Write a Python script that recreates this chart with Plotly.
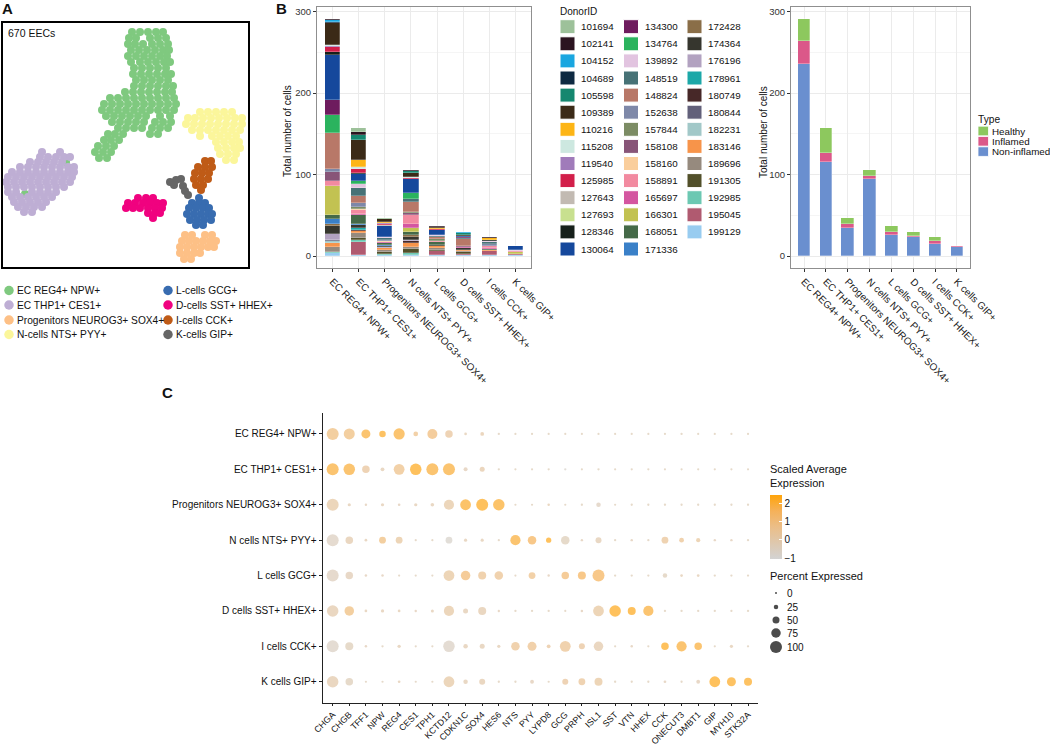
import plotly.graph_objects as go

W, H = 1050, 747
FONT = "Liberation Sans, Arial, sans-serif"

# ---------------- Panel A data (UMAP-like embedding) ----------------
cluster_names = ["EC REG4+ NPW+", "EC THP1+ CES1+", "Progenitors NEUROG3+ SOX4+", "N-cells NTS+ PYY+",
                 "L-cells GCG+", "D-cells SST+ HHEX+", "I-cells CCK+", "K-cells GIP+"]
cluster_colors = ["#7FC97F", "#BEAED4", "#FDC086", "#FBF69B", "#386CB0", "#F0027F", "#BF5B17", "#666666"]

umap_ec_reg4 = [
    (11.3, [0.7, 1.5, 2.3, 3.1, 3.8]),
    (10.7, [0.4, 1.1, 2.5, 3.3, 4.1]),
    (10.1, [0.3, 1.0, 1.8, 2.7, 3.5, 4.3]),
    (9.5, [0.6, 1.4, 2.2, 3.0, 3.8, 4.4]),
    (8.9, [0.3, 1.1, 1.9, 2.7, 3.5, 4.2]),
    (8.3, [0.6, 1.5, 2.3, 3.1, 3.9, 4.5]),
    (7.7, [0.9, 1.7, 2.5, 3.3, 4.1]),
    (7.1, [0.8, 1.6, 2.4, 3.2, 4.0, 4.6]),
    (6.5, [1.1, 1.9, 2.7, 3.5, 4.3]),
    (5.9, [0.9, 1.7, 2.5, 3.3, 4.1, 4.8]),
    (5.3, [0.0, 0.8, 1.6, 2.4, 3.2, 4.0, 4.7]),
    (4.7, [-1.5, -0.7, 0.1, 0.9, 1.7, 2.5, 3.3, 4.1, 4.9]),
    (4.1, [-2.1, -1.3, -0.5, 0.3, 1.1, 1.9, 2.7, 3.5, 4.3, 5.1]),
    (3.5, [-2.3, -1.5, -0.7, 0.1, 0.9, 1.7, 2.5, 3.3, 4.1, 4.9]),
    (2.9, [-1.9, -1.1, -0.3, 0.5, 1.3, 2.1, 3.5, 4.5]),
    (2.3, [-1.3, -0.5, 0.3, 1.1, 1.9, 3.0, 3.8, 4.6]),
    (1.7, [-0.7, 0.1, 0.9, 1.7, 2.7, 3.5, 4.3]),
    (1.1, [-1.7, -1.0, -0.2, 2.5, 3.3]),
    (0.5, [-2.1, -1.4, -0.6]),
    (-0.1, [-2.7, -1.9, -1.1]),
    (-0.7, [-3.0, -2.2, -1.4]),
    (-1.3, [-2.6, -1.8]),
    (-1.7, [-5.9]),
    (-4.9, [-10.0]),
]
umap_ec_thp1 = [
    (-0.7, [-8.3, -6.5]),
    (-1.2, [-8.5, -7.7, -6.9, -6.1, -5.5]),
    (-1.7, [-9.5, -8.7, -7.9, -7.1, -6.3]),
    (-2.2, [-10.5, -9.7, -8.9, -8.1, -7.3, -6.5, -5.7, -5.1]),
    (-2.7, [-11.3, -10.5, -9.7, -8.9, -8.1, -7.3, -6.5, -5.7, -5.1]),
    (-3.2, [-11.7, -10.9, -10.1, -9.3, -8.5, -7.7, -6.9, -6.1, -5.3]),
    (-3.7, [-11.9, -11.1, -10.3, -9.5, -8.7, -7.9, -7.1, -6.3, -5.5]),
    (-4.2, [-11.7, -10.9, -10.1, -9.3, -8.5, -7.7, -6.9, -6.1]),
    (-4.7, [-11.7, -10.9, -9.3, -8.5, -7.7, -6.9]),
    (-5.2, [-11.3, -10.5, -9.7, -8.9, -8.1, -7.3]),
    (-5.7, [-11.1, -10.3, -9.5, -8.7, -7.9]),
    (-6.2, [-10.7, -9.9, -9.1, -8.3]),
    (-6.7, [-10.1, -9.3]),
]
umap_progenitors = [
    (-9.0, [6.0, 6.7, 8.0, 8.7]),
    (-9.6, [5.7, 6.4, 7.1, 7.8, 8.5, 9.1]),
    (-10.2, [5.5, 6.2, 6.9, 7.6, 8.3, 8.9]),
    (-10.8, [5.5, 6.2, 6.9, 7.5]),
    (-11.4, [5.9, 6.6]),
]
umap_n_cells = [
    (3.3, [7.5, 8.3, 9.1, 9.9, 10.7]),
    (2.7, [6.3, 7.0, 7.8, 8.6, 9.4, 10.2, 11.0, 11.7]),
    (2.1, [6.1, 6.9, 7.7, 8.5, 9.3, 10.1, 10.9, 11.7]),
    (1.5, [6.7, 7.5, 8.3, 9.1, 9.9, 10.7, 11.5]),
    (0.9, [7.5, 8.7, 9.5, 10.3, 11.1]),
    (0.3, [9.1, 9.9, 10.7, 11.4]),
    (-0.3, [9.3, 10.1, 10.9, 11.5]),
    (-0.9, [9.5, 10.3, 11.1]),
    (-1.5, [10.1, 10.9]),
]
umap_l_cells = [
    (-5.3, [7.4]),
    (-5.8, [6.7, 7.4, 8.0]),
    (-6.3, [6.4, 7.1, 7.8, 8.4]),
    (-6.9, [6.2, 6.9, 7.6, 8.3, 8.7]),
    (-7.5, [6.5, 7.2, 7.9, 8.6]),
    (-8.0, [7.1, 7.8]),
]
umap_d_cells = [
    (-5.3, [1.3, 2.1, 2.8]),
    (-5.8, [0.3, 1.0, 1.8, 2.5, 3.2, 3.8]),
    (-6.3, [0.1, 0.8, 1.5, 2.3, 3.0, 3.7]),
    (-6.8, [2.3, 3.0, 3.5]),
    (-7.3, [2.8]),
]
umap_i_cells = [
    (-1.6, [8.0, 8.6]),
    (-2.2, [7.3, 8.0, 8.7]),
    (-2.8, [7.0, 7.7, 8.4]),
    (-3.4, [6.9, 7.6, 8.3]),
    (-4.0, [7.1, 7.8]),
    (-4.5, [7.6]),
]
umap_k_cells = [
    (-3.5, [5.1]),
    (-3.4, [5.6]),
    (-3.7, [4.5]),
    (-4.0, [4.9]),
    (-4.1, [5.8]),
    (-4.6, [6.0]),
    (-5.0, [6.3]),
]
umap_clusters = [umap_ec_reg4, umap_ec_thp1, umap_progenitors, umap_n_cells,
                 umap_l_cells, umap_d_cells, umap_i_cells, umap_k_cells]

# ---------------- Panel B data ----------------
celltypes = ["EC REG4+ NPW+", "EC THP1+ CES1+", "Progenitors NEUROG3+ SOX4+", "N cells NTS+ PYY+",
             "L cells GCG+", "D cells SST+ HHEX+", "I cells CCK+", "K cells GIP+"]

donor_ids = ["101694", "102141", "104152", "104689", "105598", "109389", "110216", "115208", "119540",
             "125985", "127643", "127693", "128346", "130064", "134300", "134764", "139892", "148519",
             "148824", "152638", "157844", "158108", "158160", "158891", "165697", "166301", "168051",
             "171336", "172428", "174364", "176196", "178961", "180749", "180844", "182231", "183146",
             "189696", "191305", "192985", "195045", "199129"]
donor_colors = ["#9DC19A", "#2B1420", "#19A6E0", "#0E2A42", "#15876F", "#3B2A17", "#FDB515", "#CDE8E0",
                "#A07BBA", "#D21F4A", "#C2BAB2", "#C8E08F", "#16201A", "#15489C", "#6E1C5E", "#2BB35E",
                "#E2C4E0", "#477276", "#B87868", "#7E88A8", "#7C8C64", "#885578", "#FACE9C", "#F28AA0",
                "#D456A0", "#C2C252", "#456A48", "#3A80C8", "#8A6E48", "#36362E", "#B2A2C0", "#1CA8A8",
                "#472828", "#62607A", "#A2C8C8", "#F7944A", "#968A7E", "#52502A", "#6CC8B2", "#B05A70",
                "#98CCF0"]

counts_ec_reg4 = {"102141": 2, "104152": 2, "104689": 1, "109389": 27, "115208": 1, "119540": 2,
                  "125985": 6, "128346": 3, "130064": 55, "134300": 19, "134764": 22, "148824": 44,
                  "152638": 4, "158108": 11, "158891": 6, "166301": 35, "168051": 6, "171336": 5,
                  "172428": 3, "174364": 10, "176196": 7, "180844": 2, "182231": 2, "183146": 5,
                  "189696": 6, "192985": 1, "199129": 4}
counts_ec_thp1 = {"101694": 5, "102141": 3, "104689": 1, "105598": 5, "109389": 25, "110216": 9,
                  "115208": 2, "125985": 5, "128346": 1, "130064": 9, "134764": 3, "139892": 6,
                  "148519": 9, "148824": 9, "152638": 5, "157844": 2, "158160": 1, "158891": 5,
                  "165697": 2, "168051": 10, "171336": 2, "174364": 4, "178961": 2, "180749": 1,
                  "183146": 3, "189696": 6, "191305": 2, "192985": 3, "195045": 15, "199129": 2}
counts_progenitors = {"101694": 2, "109389": 3, "110216": 1, "119540": 1, "125985": 2, "127643": 1,
                      "130064": 13, "139892": 2, "148519": 2, "152638": 1, "158160": 2, "165697": 1,
                      "168051": 2, "171336": 1, "174364": 2, "176196": 1, "183146": 3, "189696": 2,
                      "191305": 2, "192985": 1, "195045": 1, "199129": 1}
counts_n_cells = {"102141": 2, "105598": 2, "109389": 5, "115208": 1, "125985": 1, "127693": 1,
                  "130064": 17, "134764": 7, "148519": 3, "148824": 13, "157844": 1, "158108": 3,
                  "158891": 11, "165697": 4, "166301": 6, "168051": 3, "172428": 3, "174364": 3,
                  "176196": 2, "180749": 2, "183146": 5, "189696": 2, "191305": 5, "192985": 2,
                  "199129": 2}
counts_l_cells = {"102141": 1, "109389": 1, "110216": 2, "125985": 1, "130064": 6, "139892": 1,
                  "148519": 2, "148824": 2, "157844": 2, "158891": 2, "168051": 3, "174364": 2,
                  "183146": 2, "189696": 2, "191305": 2, "195045": 5, "199129": 1}
counts_d_cells = {"102141": 1, "104152": 1, "105598": 2, "109389": 1, "130064": 2, "134300": 1,
                  "148519": 1, "148824": 8, "158108": 2, "165697": 1, "174364": 3, "183146": 1,
                  "189696": 1, "191305": 2, "195045": 1, "199129": 2}
counts_i_cells = {"102141": 2, "110216": 2, "128346": 2, "139892": 1, "148519": 2, "152638": 2,
                  "158891": 3, "165697": 1, "168051": 2, "183146": 1, "195045": 4, "199129": 2}
counts_k_cells = {"101694": 1, "130064": 5, "139892": 1, "158891": 1, "166301": 2, "195045": 2,
                  "199129": 1}
counts_by_celltype = [counts_ec_reg4, counts_ec_thp1, counts_progenitors, counts_n_cells,
                      counts_l_cells, counts_d_cells, counts_i_cells, counts_k_cells]

type_names = ["Healthy", "Inflamed", "Non-inflamed"]
type_colors = ["#8DC85E", "#DB5889", "#6A8FCF"]
healthy = [27, 30, 7, 8, 7, 5, 5, 0]
inflamed = [28, 11, 5, 4, 4, 2, 4, 2]
non_inflamed = [236, 116, 35, 94, 26, 23, 15, 11]

# ---------------- Panel C data ----------------
genes = ["CHGA", "CHGB", "TFF1", "NPW", "REG4", "CES1", "TPH1", "KCTD12", "CDKN1C", "SOX4", "HES6",
         "NTS", "PYY", "LYPD8", "GCG", "PRPH", "ISL1", "SST", "VTN", "HHEX", "CCK", "ONECUT3",
         "DMBT1", "GIP", "MYH10", "STK32A"]
pct_expressed = [
    [100, 90, 70, 45, 92, 27, 80, 55, 7, 18, 3, 2, 2, 2, 2, 2, 2, 2, 2, 2, 2, 3, 2, 2, 2, 2],
    [100, 95, 55, 18, 88, 95, 100, 100, 20, 30, 3, 2, 2, 2, 3, 2, 3, 2, 2, 2, 2, 2, 2, 2, 2, 2],
    [100, 12, 4, 12, 6, 12, 16, 82, 88, 100, 95, 2, 2, 5, 2, 3, 25, 2, 3, 3, 3, 3, 3, 3, 3, 3],
    [100, 55, 7, 48, 48, 2, 2, 48, 12, 12, 3, 82, 65, 33, 65, 4, 40, 3, 4, 3, 48, 28, 22, 4, 4, 3],
    [100, 55, 5, 5, 2, 2, 2, 88, 75, 60, 65, 2, 48, 4, 55, 60, 100, 3, 3, 3, 25, 7, 7, 3, 3, 3],
    [95, 75, 7, 12, 7, 4, 10, 82, 30, 60, 4, 3, 3, 3, 2, 5, 88, 95, 60, 82, 3, 3, 3, 3, 3, 3],
    [100, 60, 5, 3, 13, 2, 2, 95, 25, 30, 12, 65, 70, 18, 88, 40, 75, 2, 5, 2, 55, 82, 55, 2, 12, 3],
    [95, 55, 2, 2, 7, 2, 2, 88, 25, 40, 3, 3, 18, 2, 40, 48, 60, 3, 3, 3, 7, 3, 18, 88, 70, 60],
]
avg_expression = [
    [1.0, 1.0, 2.0, 2.2, 2.0, 0.8, 1.1, 0.4, -0.1, 0.1, -0.3, -0.3, -0.3, -0.3, -0.3, -0.3, -0.3, -0.3, -0.3, -0.3, -0.3, -0.3, -0.3, -0.3, -0.3, -0.3],
    [2.0, 2.0, 0.4, -0.1, 0.8, 2.3, 2.0, 2.0, -0.2, 0.1, -0.3, -0.3, -0.3, -0.3, -0.8, -0.3, -0.3, -0.3, -0.3, -0.3, -0.3, -0.3, -0.3, -0.3, -0.3, -0.3],
    [0.2, -0.1, -0.2, -0.1, -0.2, -0.1, -0.1, 0.2, 2.1, 2.3, 2.1, -0.3, -0.3, 0.0, -0.3, -0.3, -0.4, -0.3, -0.3, -0.3, -0.3, -0.3, -0.3, -0.3, -0.3, -0.3],
    [-0.5, 0.0, -0.1, 1.0, 0.3, -0.3, -0.3, -0.8, -0.1, -0.1, -0.3, 2.0, 1.6, 2.3, -0.3, -0.2, -0.1, -0.3, -0.2, -0.3, 0.5, 0.6, 0.3, -0.2, -0.2, -0.3],
    [-0.4, -0.2, -0.2, -0.2, -0.3, -0.3, -0.3, 0.3, 1.2, 0.6, 0.6, -0.3, 0.8, -0.2, 1.2, 1.6, 1.6, -0.3, -0.3, -0.3, -0.3, -0.1, -0.1, -0.3, -0.3, -0.3],
    [0.0, 1.0, -0.1, -0.1, -0.1, -0.2, -0.1, 0.2, -0.1, 0.0, -0.2, -0.3, -0.3, -0.3, -0.3, -0.2, 0.3, 2.3, 2.3, 2.0, -0.3, -0.3, -0.3, -0.3, -0.3, -0.3],
    [-0.6, -0.3, -0.2, -0.3, -0.1, -0.3, -0.3, -0.6, -0.1, -0.1, -0.1, 0.6, 0.7, 0.4, 0.6, 0.4, 0.0, -0.3, -0.2, -0.3, 2.3, 2.0, 2.0, -0.3, -0.1, -0.3],
    [0.0, -0.3, -0.3, -0.3, -0.1, -0.3, -0.3, 0.2, -0.1, 0.0, -0.3, -0.3, -0.2, -0.3, 0.4, 0.5, 0.3, -0.3, -0.3, -0.3, -0.2, -0.3, -0.2, 2.3, 2.2, 2.2],
]
pct_legend = [0, 25, 50, 75, 100]
exp_ticks = [-1, 0, 1, 2]


def pct_to_size(p):
    return 2 + 10 * p / 100.0


def px(x):
    return x / W


def py(y):
    return 1 - y / H


fig = go.Figure()

# ---------------- Panel A ----------------
for name, col, rows in zip(cluster_names, cluster_colors, umap_clusters):
    xs, ys = [], []
    for yv, xl in rows:
        for xv in xl:
            xs.append(xv)
            ys.append(yv)
    fig.add_trace(go.Scatter(x=xs, y=ys, mode="markers", xaxis="x", yaxis="y", showlegend=False,
                             marker=dict(size=8, color=col, line=dict(width=0)), hoverinfo="skip"))

# ---------------- Panel B left (stacked donors) ----------------
cat_x = list(range(1, len(celltypes) + 1))
for did, dcol in reversed(list(zip(donor_ids, donor_colors))):
    vals = [c.get(did, None) for c in counts_by_celltype]
    fig.add_trace(go.Bar(x=cat_x, y=vals, xaxis="x2", yaxis="y2", width=0.58, showlegend=False,
                         marker=dict(color=dcol, line=dict(color="rgba(255,255,255,0.6)", width=0.4)),
                         name=did))

# ---------------- Panel B right (type) ----------------
for tname, tcol, tvals in [("Non-inflamed", type_colors[2], non_inflamed),
                           ("Inflamed", type_colors[1], inflamed),
                           ("Healthy", type_colors[0], healthy)]:
    fig.add_trace(go.Bar(x=cat_x, y=[v if v else None for v in tvals], xaxis="x3", yaxis="y3",
                         width=0.58, showlegend=False, name=tname,
                         marker=dict(color=tcol, line=dict(color="rgba(255,255,255,0.5)", width=0.6))))

# ---------------- Panel C dot plot ----------------
dx, dy, dsz, dcl = [], [], [], []
for ri, (prow, erow) in enumerate(zip(pct_expressed, avg_expression)):
    for gi, (p, e) in enumerate(zip(prow, erow)):
        dx.append(gi + 1)
        dy.append(ri + 1)
        dsz.append(pct_to_size(p))
        dcl.append(e)
fig.add_trace(go.Scatter(
    x=dx, y=dy, mode="markers", xaxis="x4", yaxis="y4", showlegend=False,
    marker=dict(size=dsz, color=dcl, cmin=-1.05, cmax=2.45,
                colorscale=[[0, "#D3D3D3"], [0.25, "#DEC8AE"], [0.5, "#EBBE88"], [0.75, "#F5B159"], [1, "#FFA40A"]],
                line=dict(width=0),
                colorbar=dict(x=px(770), xanchor="left", y=py(527), yanchor="middle", len=64 / H,
                              lenmode="fraction", thickness=12, thicknessmode="pixels", outlinewidth=0,
                              tickvals=exp_ticks, ticktext=["\u22121", "0", "1", "2"], ticks="inside",
                              ticklen=3, tickcolor="white", tickfont=dict(size=10, color="#111", family=FONT),
                              xpad=0, ypad=0)),
    hoverinfo="skip"))

# ---------------- overlay (legends) ----------------
leg_x = [9, 9, 9, 9, 168, 168, 168, 168]
leg_y = [290.5, 305, 320, 334.5, 290.5, 305, 320, 334.5]
fig.add_trace(go.Scatter(x=leg_x, y=leg_y, mode="markers", xaxis="x5", yaxis="y5", showlegend=False,
                         marker=dict(size=9.5, color=cluster_colors, line=dict(width=0)), hoverinfo="skip"))
size_leg_y = [593, 607, 620, 633, 647]
fig.add_trace(go.Scatter(x=[776] * 5, y=size_leg_y, mode="markers", xaxis="x5", yaxis="y5", showlegend=False,
                         marker=dict(size=[pct_to_size(p) for p in pct_legend], color="black", line=dict(width=0)),
                         hoverinfo="skip"))

annotations = []
shapes = []


def text(x, y, s, size=10.5, anchor="left", bold=False, color="#111", angle=0, yanchor="middle"):
    annotations.append(dict(x=x, y=y, xref="x5", yref="y5", text=("<b>%s</b>" % s) if bold else s,
                            showarrow=False, xanchor=anchor, yanchor=yanchor, textangle=angle,
                            font=dict(size=size, color=color, family=FONT), borderpad=0))


text(1, 8, "A", size=15, bold=True)
text(275, 8, "B", size=15, bold=True)
text(161, 392, "C", size=15, bold=True)
text(7, 33, "670 EECs", size=10.5)
for i, nm in enumerate(cluster_names):
    text(leg_x[i] + 7, leg_y[i], nm, size=10.2)

# donor legend
text(559, 11, "DonorID", size=10)
for i, (did, dcol) in enumerate(zip(donor_ids, donor_colors)):
    col, row = divmod(i, 14)
    kx = [560, 623.5, 687][col]
    cy = 26.7 + 17.1 * row
    shapes.append(dict(type="rect", xref="x5", yref="y5", x0=kx, x1=kx + 15, y0=cy - 7, y1=cy + 7,
                       fillcolor=dcol, line=dict(color="white", width=1)))
    text(kx + 20, cy, did, size=9.8)

# type legend
text(977, 119, "Type", size=10.2)
for i, (tn, tc) in enumerate(zip(type_names, type_colors)):
    cy = 131 + 10.3 * i
    shapes.append(dict(type="rect", xref="x5", yref="y5", x0=978, x1=988.5, y0=cy - 4.8, y1=cy + 4.8,
                       fillcolor=tc, line=dict(color="white", width=0.8)))
    text(991, cy, tn, size=9.8)

# y titles
text(287, 131, "Total number of cells", size=10, anchor="center", angle=-90)
text(763, 132, "Total number of cells", size=10, anchor="center", angle=-90)

# dot plot legend titles
text(769, 469, "Scaled Average", size=11)
text(769, 482.5, "Expression", size=11)
text(769, 576, "Percent Expressed", size=11)
for yv, p in zip(size_leg_y, pct_legend):
    text(786, yv, str(p), size=10)

grid_col = "#EBEBEB"
border_col = "#8F8F8F"
bar_axis_common = dict(showline=True, mirror=True, linecolor=border_col, linewidth=1, zeroline=False,
                       ticks="outside", ticklen=3, tickcolor="#333", tickwidth=1, automargin=False)

fig.update_layout(
    template="none",
    width=W, height=H, margin=dict(l=0, r=0, t=0, b=0, pad=0, autoexpand=False),
    paper_bgcolor="white", plot_bgcolor="rgba(0,0,0,0)", barmode="stack", bargap=0,
    font=dict(family=FONT, color="#111"), showlegend=False,
    xaxis=dict(domain=[px(3), px(248)], range=[-12.2, 12.3], showline=True, mirror=True, linecolor="black",
               linewidth=1.5, showgrid=False, zeroline=False, showticklabels=False, ticks="", automargin=False),
    yaxis=dict(domain=[py(267), py(23)], range=[-12.2, 12.2], showline=True, mirror=True, linecolor="black",
               linewidth=1.5, showgrid=False, zeroline=False, showticklabels=False, ticks="", automargin=False),
    xaxis2=dict(domain=[px(317), px(531)], range=[0.4, 8.6], tickvals=cat_x, ticktext=celltypes,
                tickangle=45, showgrid=True, gridcolor=grid_col, gridwidth=1,
                tickfont=dict(size=10, color="#222"), anchor="y2", **bar_axis_common),
    yaxis2=dict(domain=[py(268), py(7)], range=[-14.55, 305.55], tickvals=[0, 100, 200, 300],
                showgrid=True, gridcolor=grid_col, gridwidth=1,
                minor=dict(tickvals=[50, 150, 250], showgrid=True, gridcolor="#F5F5F5", ticks=""),
                tickfont=dict(size=9.5, color="#333"), anchor="x2", **bar_axis_common),
    xaxis3=dict(domain=[px(791), px(970)], range=[0.4, 8.6], tickvals=cat_x, ticktext=celltypes,
                tickangle=45, showgrid=True, gridcolor=grid_col, gridwidth=1,
                tickfont=dict(size=10, color="#222"), anchor="y3", **bar_axis_common),
    yaxis3=dict(domain=[py(268), py(7)], range=[-14.55, 305.55], tickvals=[0, 100, 200, 300],
                showgrid=True, gridcolor=grid_col, gridwidth=1,
                minor=dict(tickvals=[50, 150, 250], showgrid=True, gridcolor="#F5F5F5", ticks=""),
                tickfont=dict(size=9.5, color="#333"), anchor="x3", **bar_axis_common),
    xaxis4=dict(domain=[px(322.7), px(758)], range=[0.4, 26.6], tickvals=list(range(1, len(genes) + 1)),
                ticktext=genes, tickangle=-45, showline=True, linecolor="#222", linewidth=1.2, showgrid=False,
                zeroline=False, ticks="outside", ticklen=2, tickcolor="#222", automargin=False,
                tickfont=dict(size=8.8, color="#111"), anchor="y4"),
    yaxis4=dict(domain=[py(703), py(412.7)], range=[8.6, 0.4], tickvals=list(range(1, len(celltypes) + 1)),
                ticktext=celltypes, showline=True, linecolor="#222", linewidth=1.2, showgrid=False,
                zeroline=False, ticks="outside", ticklen=3, tickcolor="#222", automargin=False,
                tickfont=dict(size=10, color="#111"), anchor="x4"),
    xaxis5=dict(domain=[0, 1], range=[0, W], visible=False, fixedrange=True, anchor="y5", automargin=False),
    yaxis5=dict(domain=[0, 1], range=[H, 0], visible=False, fixedrange=True, anchor="x5", automargin=False),
    annotations=annotations, shapes=shapes,
)

fig.write_html("out.html", config={"displayModeBar": False},
               post_script="document.body.style.margin='0';document.body.style.padding='0';"
                           "document.body.style.overflow='hidden';")
